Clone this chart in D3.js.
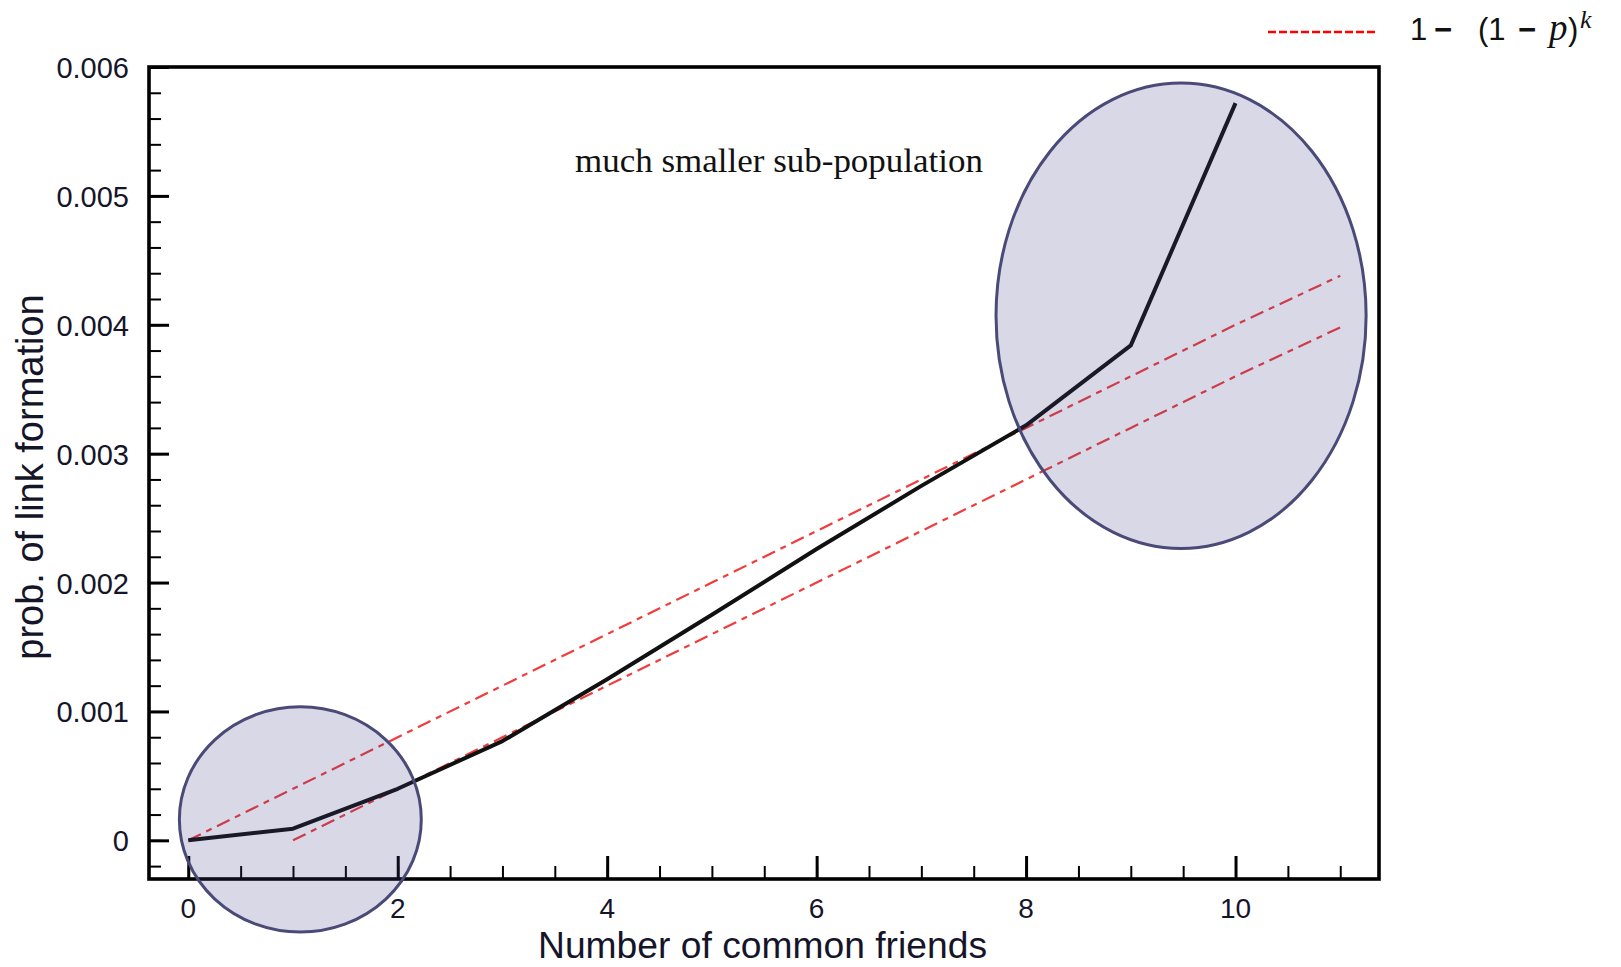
<!DOCTYPE html>
<html>
<head>
<meta charset="utf-8">
<script src="https://cdn.jsdelivr.net/npm/d3@7"></script>
<style>
  html, body { margin: 0; padding: 0; background: #fff; }
  svg { display: block; }
</style>
</head>
<body>
<svg id="chart" width="1621" height="967"></svg>
<script>
// ---- data ----
const commonFriends = [0, 1, 2, 3, 4, 5, 6, 7, 8, 9, 10];
const observedProb  = [0, 0.00009, 0.0004, 0.00077, 0.00125, 0.00175, 0.00226, 0.00275, 0.00322, 0.00384, 0.00572];

const upperModelK    = [0, 1, 2, 3, 4, 5, 6, 7, 8, 9, 10, 11];
const upperModelProb = [0, 0.0004, 0.0008, 0.0012, 0.0016, 0.002, 0.0024, 0.0028, 0.0032, 0.0036, 0.004, 0.00438];

const lowerModelK    = [1, 2, 3, 4, 5, 6, 7, 8, 9, 10, 11];
const lowerModelProb = [0, 0.0004, 0.0008, 0.0012, 0.0016, 0.002, 0.0024, 0.0028, 0.0032, 0.0036, 0.00398];

const xTickValues = [0, 2, 4, 6, 8, 10];
const xTickLabels = ["0", "2", "4", "6", "8", "10"];
const yTickValues = [0, 0.001, 0.002, 0.003, 0.004, 0.005, 0.006];
const yTickLabels = ["0", "0.001", "0.002", "0.003", "0.004", "0.005", "0.006"];

// highlighted regions: [centre k, centre prob, radius in k, radius in prob]
const highlightRegions = [
  [1.07, 0.000162, 1.155, 0.000874],
  [9.48, 0.004070, 1.767, 0.001805]
];

const xTitle = "Number of common friends";
const yTitle = "prob. of link formation";
const annotation = "much smaller sub-population";

// ---- layout ----
const svg = d3.select("#chart");
const L = 149, R = 1379, T = 67, B = 879;

const x = d3.scaleLinear().domain([-0.375, 11.37]).range([L, R]);
const y = d3.scaleLinear().domain([-0.0003, 0.006]).range([B, T]);

const sans = "'Liberation Sans', Arial, Helvetica, sans-serif";
const serif = "'Liberation Serif', 'Times New Roman', serif";
const textColor = "#15152a";

// lines
const line = d3.line().x(d => x(d[0])).y(d => y(d[1]));

const redDash = "14,6,6,6";
svg.append("path")
  .datum(upperModelK.map((k, i) => [k, upperModelProb[i]]))
  .attr("d", line).attr("fill", "none")
  .attr("stroke", "#f03c3c").attr("stroke-width", 2.2)
  .attr("stroke-dasharray", redDash);

svg.append("path")
  .datum(lowerModelK.map((k, i) => [k, lowerModelProb[i]]))
  .attr("d", line).attr("fill", "none")
  .attr("stroke", "#f03c3c").attr("stroke-width", 2.2)
  .attr("stroke-dasharray", redDash);

svg.append("path")
  .datum(commonFriends.map((k, i) => [k, observedProb[i]]))
  .attr("d", line).attr("fill", "none")
  .attr("stroke", "#111").attr("stroke-width", 4)
  .attr("stroke-linejoin", "round");

// axes (ticks inward)
const yMinor = d3.range(-0.0002, 0.00601, 0.0002).map(v => +v.toFixed(4));
const xMinor = d3.range(0, 11.01, 0.5);

const yAxisMinor = d3.axisRight(y).tickValues(yMinor).tickSize(12).tickFormat("");
const yAxisMajor = d3.axisRight(y).tickValues(yTickValues).tickSize(20).tickFormat("");
const xAxisMinor = d3.axisTop(x).tickValues(xMinor).tickSize(13).tickFormat("");
const xAxisMajor = d3.axisTop(x).tickValues(xTickValues).tickSize(23).tickFormat("");

function styleAxis(g, w) {
  g.select(".domain").remove();
  g.selectAll(".tick line").attr("stroke", "#000").attr("stroke-width", w);
}
svg.append("g").attr("transform", `translate(${L},0)`).call(yAxisMinor).call(g => styleAxis(g, 2));
svg.append("g").attr("transform", `translate(${L},0)`).call(yAxisMajor).call(g => styleAxis(g, 3));
svg.append("g").attr("transform", `translate(0,${B})`).call(xAxisMinor).call(g => styleAxis(g, 2));
svg.append("g").attr("transform", `translate(0,${B})`).call(xAxisMajor).call(g => styleAxis(g, 3));

// frame
svg.append("rect")
  .attr("x", L).attr("y", T).attr("width", R - L).attr("height", B - T)
  .attr("fill", "none").attr("stroke", "#000").attr("stroke-width", 3.6);

// tick labels
svg.append("g").selectAll("text").data(yTickValues).join("text")
  .attr("x", 129).attr("y", d => y(d) + 11)
  .attr("text-anchor", "end")
  .attr("font-family", sans).attr("font-size", 29).attr("fill", textColor)
  .text((d, i) => yTickLabels[i]);

svg.append("g").selectAll("text").data(xTickValues).join("text")
  .attr("x", d => x(d)).attr("y", 918)
  .attr("text-anchor", "middle")
  .attr("font-family", sans).attr("font-size", 28).attr("fill", textColor)
  .text((d, i) => xTickLabels[i]);

// axis titles
svg.append("text")
  .attr("x", 538).attr("y", 958)
  .attr("font-family", sans).attr("font-size", 36).attr("fill", textColor)
  .attr("textLength", 449).attr("lengthAdjust", "spacingAndGlyphs")
  .text(xTitle);

svg.append("text")
  .attr("transform", "translate(43,477) rotate(-90)")
  .attr("text-anchor", "middle")
  .attr("font-family", sans).attr("font-size", 38).attr("fill", textColor)
  .text(yTitle);

// annotation
svg.append("text")
  .attr("x", 575).attr("y", 172)
  .attr("font-family", serif)
  .attr("font-size", 34).attr("fill", "#111")
  .attr("textLength", 408).attr("lengthAdjust", "spacingAndGlyphs")
  .text(annotation);

// highlight ellipses (semi-transparent, on top)
svg.append("g").selectAll("ellipse").data(highlightRegions).join("ellipse")
  .attr("cx", d => x(d[0]))
  .attr("cy", d => y(d[1]))
  .attr("rx", d => x(d[2]) - x(0))
  .attr("ry", d => y(0) - y(d[3]))
  .attr("fill", "rgba(58,58,128,0.2)")
  .attr("stroke", "#4a4a78").attr("stroke-width", 3);

// legend
svg.append("line")
  .attr("x1", 1268).attr("x2", 1377).attr("y1", 32).attr("y2", 32)
  .attr("stroke", "#ff0000").attr("stroke-width", 2.5)
  .attr("stroke-dasharray", "8,3");

const lg = svg.append("text").attr("y", 40)
  .attr("font-family", sans).attr("font-size", 31).attr("fill", "#111");
lg.append("tspan").attr("x", 1410).text("1");
lg.append("tspan").attr("x", 1434).attr("font-weight", "bold").text("\u2212");
lg.append("tspan").attr("x", 1478).text("(1");
lg.append("tspan").attr("x", 1518).attr("font-weight", "bold").text("\u2212");
lg.append("tspan").attr("x", 1549)
  .attr("font-family", serif)
  .attr("font-style", "italic").attr("font-size", 37).text("p");
lg.append("tspan").attr("x", 1568).text(")");
lg.append("tspan").attr("x", 1580).attr("y", 28)
  .attr("font-family", serif)
  .attr("font-style", "italic").attr("font-size", 26).text("k");
</script>
</body>
</html>
